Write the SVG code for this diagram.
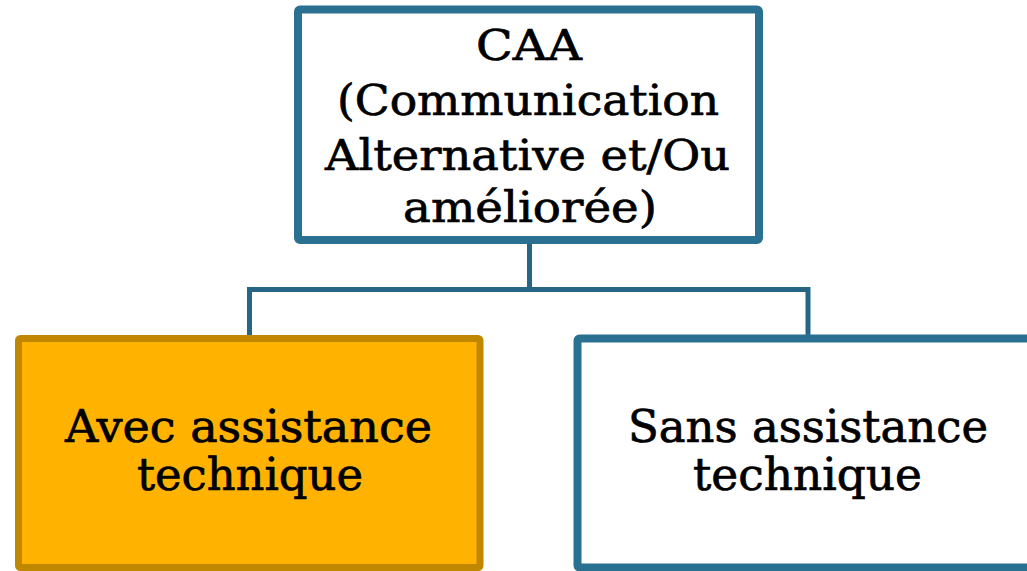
<svg xmlns="http://www.w3.org/2000/svg" width="1027" height="571" viewBox="0 0 1027 571">
<style>
.t{font-family:"DejaVu Serif","Liberation Serif",serif;fill:#000;stroke:#000;stroke-width:0.7;text-anchor:middle}
.top{font-size:43px}
.bot{font-size:44px}
.blue{fill:#fff;stroke:#2A7090;stroke-width:8;stroke-linejoin:round}
.gold{fill:#FFB300;stroke:#C08800;stroke-width:7;stroke-linejoin:round}
.conn{fill:none;stroke:#266583;stroke-width:5}
</style>
<rect width="1027" height="571" fill="#fff"/>
<g id="connectors">
<path class="conn" d="M529.5 243 V289.5 M249.5 338 V289.5 H808 V338"/>
</g>
<g id="node-caa">
<rect class="blue" x="298" y="9.5" width="461" height="230.5" rx="2"/>
<text class="t top" x="529" y="59.5" textLength="106" lengthAdjust="spacingAndGlyphs">CAA</text>
<text class="t top" x="528" y="115" textLength="382" lengthAdjust="spacingAndGlyphs">(Communication</text>
<text class="t top" x="527.5" y="170" textLength="405" lengthAdjust="spacingAndGlyphs">Alternative et/Ou</text>
<text class="t top" x="530" y="222" textLength="254" lengthAdjust="spacingAndGlyphs">améliorée)</text>
</g>
<g id="node-avec">
<rect class="gold" x="18.5" y="338.5" width="461.5" height="229" rx="2"/>
<text class="t bot" x="248.5" y="442" textLength="367" lengthAdjust="spacingAndGlyphs">Avec assistance</text>
<text class="t bot" x="250" y="490" textLength="226" lengthAdjust="spacingAndGlyphs">technique</text>
</g>
<g id="node-sans">
<rect class="blue" x="577.5" y="338.5" width="461" height="229" rx="2"/>
<text class="t bot" x="808" y="442" textLength="360" lengthAdjust="spacingAndGlyphs">Sans assistance</text>
<text class="t bot" x="807.5" y="490" textLength="229" lengthAdjust="spacingAndGlyphs">technique</text>
</g>
</svg>
